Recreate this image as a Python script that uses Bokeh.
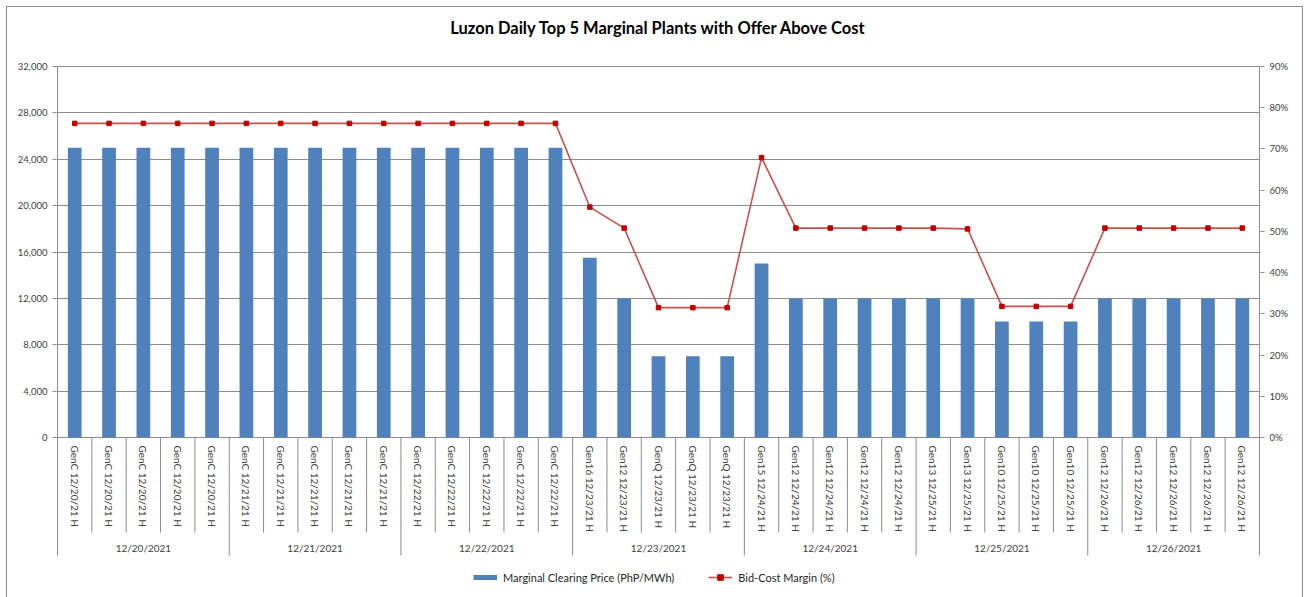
import math
from bokeh.plotting import figure
from bokeh.models import (ColumnDataSource, FactorRange, Range1d, LinearAxis, FixedTicker,
                          NumeralTickFormatter, Legend, LegendItem, Label)
from bokeh.core.properties import value
from bokeh.embed import file_html
from bokeh.resources import INLINE

# ---------------- data ----------------
title = "Luzon Daily Top 5 Marginal Plants with Offer Above Cost"
days = ["12/20/2021", "12/21/2021", "12/22/2021", "12/23/2021",
        "12/24/2021", "12/25/2021", "12/26/2021"]
plants = [
    "GenC 12/20/21 H", "GenC 12/20/21 H", "GenC 12/20/21 H", "GenC 12/20/21 H", "GenC 12/20/21 H",
    "GenC 12/21/21 H", "GenC 12/21/21 H", "GenC 12/21/21 H", "GenC 12/21/21 H", "GenC 12/21/21 H",
    "GenC 12/22/21 H", "GenC 12/22/21 H", "GenC 12/22/21 H", "GenC 12/22/21 H", "GenC 12/22/21 H",
    "Gen16 12/23/21 H", "Gen12 12/23/21 H", "GenQ 12/23/21 H", "GenQ 12/23/21 H", "GenQ 12/23/21 H",
    "Gen15 12/24/21 H", "Gen12 12/24/21 H", "Gen12 12/24/21 H", "Gen12 12/24/21 H", "Gen12 12/24/21 H",
    "Gen13 12/25/21 H", "Gen13 12/25/21 H", "Gen10 12/25/21 H", "Gen10 12/25/21 H", "Gen10 12/25/21 H",
    "Gen12 12/26/21 H", "Gen12 12/26/21 H", "Gen12 12/26/21 H", "Gen12 12/26/21 H", "Gen12 12/26/21 H",
]
price = [
    25000, 25000, 25000, 25000, 25000,
    25000, 25000, 25000, 25000, 25000,
    25000, 25000, 25000, 25000, 25000,
    15500, 12000, 7000, 7000, 7000,
    15000, 12000, 12000, 12000, 12000,
    12000, 12000, 10000, 10000, 10000,
    12000, 12000, 12000, 12000, 12000,
]
margin = [
    0.762, 0.762, 0.762, 0.762, 0.762,
    0.762, 0.762, 0.762, 0.762, 0.762,
    0.762, 0.762, 0.762, 0.762, 0.762,
    0.559, 0.508, 0.315, 0.315, 0.315,
    0.679, 0.508, 0.508, 0.508, 0.508,
    0.508, 0.506, 0.318, 0.318, 0.318,
    0.508, 0.508, 0.508, 0.508, 0.508,
]
price_ticks = [0, 4000, 8000, 12000, 16000, 20000, 24000, 28000, 32000]
pct_ticks = [0.0, 0.1, 0.2, 0.3, 0.4, 0.5, 0.6, 0.7, 0.8, 0.9]
bar_label = "Marginal Clearing Price (PhP/MWh)"
line_label = "Bid-Cost Margin (%)"
y_title = "PhP/MWh"

# ---------------- layout constants (pixels, canvas coords) ----------------
W, H = 1295, 590
FL, FR = 49, 1253          # frame left / right
FT = 35                    # frame top (title panel sits right above it)
Y_TOP = 59                 # pixel row of axis max
Y0 = 430                   # pixel row of zero
FONT = "Lato"
BLUE = "#4F81BD"
RED_LINE = "#C8504D"
RED_MARK = "#C00000"
GRID = "#8C8C8C"
TXT = "#404040"

pmax = price_ticks[-1]
qmax = pct_ticks[-1]
D = pmax / (Y0 - Y_TOP)      # data units per pixel (left axis)
Dq = qmax / (Y0 - Y_TOP)     # data units per pixel (right axis)

# unique factors (day, plant slot)
groups = [d for d in days for _ in range(len(plants) // len(days))]
factors = []
seen = {}
for g, pl in zip(groups, plants):
    k = seen.get((g, pl), 0)
    seen[(g, pl)] = k + 1
    factors.append((g, pl + "\u200b" * k))

src = ColumnDataSource(dict(x=factors, price=price, margin=margin, plant=plants))

x_range = FactorRange(factors=factors, group_padding=0, factor_padding=0,
                      range_padding=0.03, range_padding_units="absolute")

p = figure(width=W, height=H, x_range=x_range,
           y_range=Range1d(-(H - Y0) * D, pmax + (Y_TOP - FT) * D),
           x_axis_location=None, output_backend="svg", toolbar_location=None,
           min_border_left=FL, min_border_right=W - FR, min_border_top=FT,
           min_border_bottom=0, background_fill_color="white",
           border_fill_color="white", title=title,
           styles={"margin": "7px 0 0 7px", "outline": "1px solid #8C8C8C"})
p.outline_line_color = None
p.extra_y_ranges = {"pct": Range1d(-(H - Y0) * Dq, qmax + (Y_TOP - FT) * Dq)}
p.xgrid.grid_line_color = None

# title
p.title.align = "center"
p.title.offset = -3
p.title.text_font = FONT
p.title.text_font_size = "16.5px"
p.title.text_font_style = "bold"
p.title.text_color = "#000000"

# left axis
yax = p.yaxis[0]
yax.ticker = FixedTicker(ticks=price_ticks)
yax.formatter = NumeralTickFormatter(format="0,0")
yax.bounds = (price_ticks[0], pmax)
yax.axis_line_color = None
yax.major_tick_in = 0
yax.major_tick_out = 4
yax.minor_tick_line_color = None
yax.minor_tick_out = 0
yax.major_tick_line_color = GRID
yax.major_label_text_font = FONT
yax.major_label_text_font_size = "9.5px"
yax.major_label_text_color = TXT
yax.major_label_standoff = 5

p.ygrid.ticker = yax.ticker
p.ygrid.grid_line_color = GRID
p.ygrid.grid_line_width = 1

# right axis
rax = LinearAxis(y_range_name="pct", ticker=FixedTicker(ticks=pct_ticks),
                 formatter=NumeralTickFormatter(format="0%"), bounds=(pct_ticks[0], qmax))
rax.axis_line_color = None
rax.major_tick_in = 0
rax.major_tick_out = 4
rax.minor_tick_line_color = None
rax.minor_tick_out = 0
rax.major_tick_line_color = GRID
rax.major_label_text_font = FONT
rax.major_label_text_font_size = "9.5px"
rax.major_label_text_color = TXT
rax.major_label_standoff = 5
p.add_layout(rax, "right")

# separators / axis lines of the category axis
short_len = 95 * D
long_len = 118 * D
n = len(factors)
per_group = n // len(days)
sx0, sy0, sy1 = [], [], []
sx0.append(factors[0] + (-0.5,))
sy0.append(pmax)
sy1.append(-long_len)
for i, f in enumerate(factors):
    sx0.append(f + (0.5,))
    if i == n - 1:
        sy0.append(pmax)
        sy1.append(-long_len)
    elif (i + 1) % per_group == 0:
        sy0.append(0)
        sy1.append(-long_len)
    else:
        sy0.append(0)
        sy1.append(-short_len)
seg_src = ColumnDataSource(dict(x=sx0, y0=sy0, y1=sy1))
p.segment(x0="x", y0="y0", x1="x", y1="y1", source=seg_src, line_color=GRID, line_width=1)

# bars
bars = p.vbar(x="x", top="price", width=0.4, source=src, fill_color=BLUE, line_color=None)

# margin line
ln = p.line(x="x", y="margin", source=src, y_range_name="pct", line_color=RED_LINE, line_width=1.6)
sc = p.scatter(x="x", y="margin", source=src, y_range_name="pct", marker="square", size=4.5,
               fill_color=RED_MARK, line_color=RED_MARK)

# category labels
p.text(x="x", y=0, text="plant", source=src, angle=-math.pi / 2, y_offset=8,
       text_align="left", text_baseline="middle", text_font=value(FONT),
       text_font_size="10px", text_color=TXT)
gsrc = ColumnDataSource(dict(x=days, label=days))
p.text(x="x", y=0, text="label", source=gsrc, y_offset=110,
       text_align="center", text_baseline="middle", text_font=value(FONT),
       text_font_size="10px", text_color=TXT)

# y-axis title
p.add_layout(Label(x=-(FL - 8.5), y=(price_ticks[0] + pmax) / 2, x_units="screen", y_units="data",
                   text=y_title, angle=math.pi / 2, text_align="center", text_baseline="middle",
                   text_font=FONT, text_font_size="10px", text_font_style="bold", text_color="#262626"))

# legend (bar key drawn as a thick legend line like the spreadsheet key)
bar_key = p.line(x=[factors[0]], y=[float("nan")], line_color=BLUE, line_width=5)
legend = Legend(items=[LegendItem(label=bar_label, renderers=[bar_key]),
                       LegendItem(label=line_label, renderers=[ln, sc])],
                orientation="horizontal", location=(417, 13),
                glyph_width=24, glyph_height=14, label_height=14, label_standoff=6,
                spacing=34, padding=0, margin=0, border_line_color=None,
                background_fill_alpha=0, label_text_font=FONT,
                label_text_font_size="11px", label_text_color="#262626")
p.add_layout(legend)

open("out.html", "w").write(file_html(p, INLINE))
